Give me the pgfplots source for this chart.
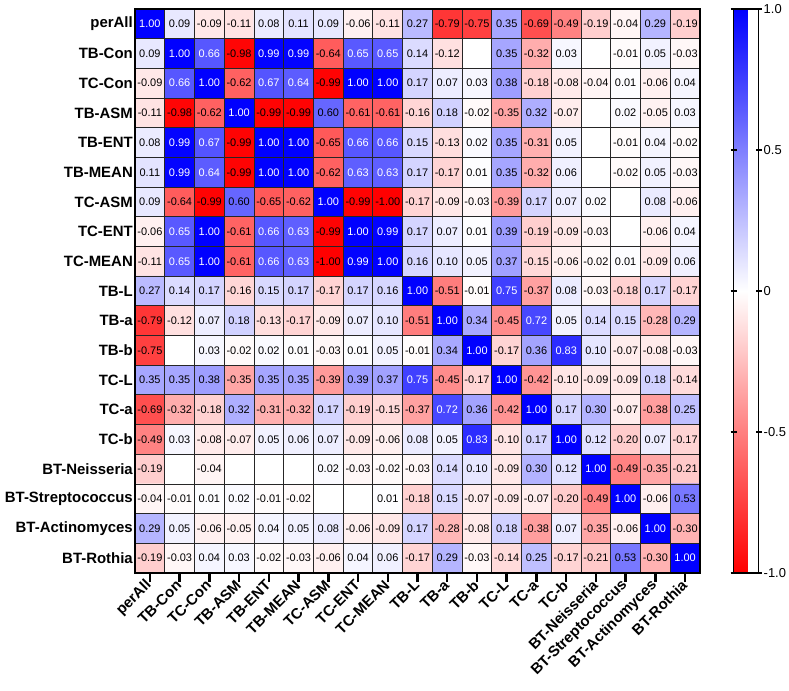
\documentclass[border=0pt]{standalone}
\usepackage{pgfplots}
\pgfplotsset{compat=1.18}
\usepackage{pgfplotstable}
\usepackage{fontspec}
\setmainfont{Liberation Sans}

% correlation matrix, rows/cols in order: perAll ... BT-Rothia ; 0 = blank cell
\pgfplotstableread{
c0 c1 c2 c3 c4 c5 c6 c7 c8 c9 c10 c11 c12 c13 c14 c15 c16 c17 c18
1.00 0.09 -0.09 -0.11 0.08 0.11 0.09 -0.06 -0.11 0.27 -0.79 -0.75 0.35 -0.69 -0.49 -0.19 -0.04 0.29 -0.19
0.09 1.00 0.66 -0.98 0.99 0.99 -0.64 0.65 0.65 0.14 -0.12 0 0.35 -0.32 0.03 0 -0.01 0.05 -0.03
-0.09 0.66 1.00 -0.62 0.67 0.64 -0.99 1.00 1.00 0.17 0.07 0.03 0.38 -0.18 -0.08 -0.04 0.01 -0.06 0.04
-0.11 -0.98 -0.62 1.00 -0.99 -0.99 0.60 -0.61 -0.61 -0.16 0.18 -0.02 -0.35 0.32 -0.07 0 0.02 -0.05 0.03
0.08 0.99 0.67 -0.99 1.00 1.00 -0.65 0.66 0.66 0.15 -0.13 0.02 0.35 -0.31 0.05 0 -0.01 0.04 -0.02
0.11 0.99 0.64 -0.99 1.00 1.00 -0.62 0.63 0.63 0.17 -0.17 0.01 0.35 -0.32 0.06 0 -0.02 0.05 -0.03
0.09 -0.64 -0.99 0.60 -0.65 -0.62 1.00 -0.99 -1.00 -0.17 -0.09 -0.03 -0.39 0.17 0.07 0.02 0 0.08 -0.06
-0.06 0.65 1.00 -0.61 0.66 0.63 -0.99 1.00 0.99 0.17 0.07 0.01 0.39 -0.19 -0.09 -0.03 0 -0.06 0.04
-0.11 0.65 1.00 -0.61 0.66 0.63 -1.00 0.99 1.00 0.16 0.10 0.05 0.37 -0.15 -0.06 -0.02 0.01 -0.09 0.06
0.27 0.14 0.17 -0.16 0.15 0.17 -0.17 0.17 0.16 1.00 -0.51 -0.01 0.75 -0.37 0.08 -0.03 -0.18 0.17 -0.17
-0.79 -0.12 0.07 0.18 -0.13 -0.17 -0.09 0.07 0.10 -0.51 1.00 0.34 -0.45 0.72 0.05 0.14 0.15 -0.28 0.29
-0.75 0 0.03 -0.02 0.02 0.01 -0.03 0.01 0.05 -0.01 0.34 1.00 -0.17 0.36 0.83 0.10 -0.07 -0.08 -0.03
0.35 0.35 0.38 -0.35 0.35 0.35 -0.39 0.39 0.37 0.75 -0.45 -0.17 1.00 -0.42 -0.10 -0.09 -0.09 0.18 -0.14
-0.69 -0.32 -0.18 0.32 -0.31 -0.32 0.17 -0.19 -0.15 -0.37 0.72 0.36 -0.42 1.00 0.17 0.30 -0.07 -0.38 0.25
-0.49 0.03 -0.08 -0.07 0.05 0.06 0.07 -0.09 -0.06 0.08 0.05 0.83 -0.10 0.17 1.00 0.12 -0.20 0.07 -0.17
-0.19 0 -0.04 0 0 0 0.02 -0.03 -0.02 -0.03 0.14 0.10 -0.09 0.30 0.12 1.00 -0.49 -0.35 -0.21
-0.04 -0.01 0.01 0.02 -0.01 -0.02 0 0 0.01 -0.18 0.15 -0.07 -0.09 -0.07 -0.20 -0.49 1.00 -0.06 0.53
0.29 0.05 -0.06 -0.05 0.04 0.05 0.08 -0.06 -0.09 0.17 -0.28 -0.08 0.18 -0.38 0.07 -0.35 -0.06 1.00 -0.30
-0.19 -0.03 0.04 0.03 -0.02 -0.03 -0.06 0.04 0.06 -0.17 0.29 -0.03 -0.14 0.25 -0.17 -0.21 0.53 -0.30 1.00
}\corr

\gdef\coordlist{}
\pgfplotsforeachungrouped \r in {0,...,18}{%
  \pgfplotsforeachungrouped \c in {0,...,18}{%
    \edef\cn{c\c}%
    \pgfplotstablegetelem{\r}{\cn}\of\corr
    \pgfmathtruncatemacro\yy{18-\r}%
    \xdef\coordlist{\coordlist (\c,\yy) [\pgfplotsretval]}%
  }%
}

\def\plotmatrix#1{\addplot[matrix plot*, mesh/cols=19, point meta=explicit] coordinates {#1};}
\def\plotlabels#1{\addplot[only marks, mark=none, draw=none, point meta=explicit symbolic,
   nodes near coords={\ifdim\pgfplotspointmeta pt=0pt\else\ifdim\pgfplotspointmeta pt>0.605pt\color{white}\fi\pgfplotspointmeta\fi},
   nodes near coords align=center,
   every node near coord/.append style={anchor=center, inner sep=0pt, font=\fontsize{11}{11}\selectfont}]
   coordinates {#1};}

\begin{document}
\begin{tikzpicture}
\begin{axis}[
  scale only axis, width=565bp, height=564bp,
  xmin=-0.5, xmax=18.5, ymin=-0.5, ymax=18.5,
  enlargelimits=false, clip=false,
  colormap={rwb}{rgb255=(255,0,0) rgb255=(255,255,255) rgb255=(0,0,255)},
  point meta min=-1, point meta max=1,
  xtick={0,...,18}, ytick={0,...,18},
  xticklabels={perAll,TB-Con,TC-Con,TB-ASM,TB-ENT,TB-MEAN,TC-ASM,TC-ENT,TC-MEAN,TB-L,TB-a,TB-b,TC-L,TC-a,TC-b,BT-Neisseria,BT-Streptococcus,BT-Actinomyces,BT-Rothia},
  yticklabels={BT-Rothia,BT-Actinomyces,BT-Streptococcus,BT-Neisseria,TC-b,TC-a,TC-L,TB-b,TB-a,TB-L,TC-MEAN,TC-ENT,TC-ASM,TB-MEAN,TB-ENT,TB-ASM,TC-Con,TB-Con,perAll},
  xtick pos=left, xtick align=outside,
  major tick length=9bp,
  xtick style={line width=2.5bp, black},
  ytick style={draw=none},
  minor xtick={0.5,1.5,...,17.5}, minor ytick={0.5,1.5,...,17.5},
  minor tick length=0pt,
  xminorgrids=true, yminorgrids=true,
  minor grid style={black!85, line width=0.8bp},
  axis on top,
  axis line style={line width=1.2bp},
  xticklabel style={rotate=45, anchor=east, inner sep=1bp, font=\bfseries\fontsize{15}{15}\selectfont},
  yticklabel style={anchor=east, inner sep=2bp, font=\bfseries\fontsize{15}{15}\selectfont},
  colorbar,
  colorbar style={
    at={(parent axis.north east)}, anchor=north west, xshift=25bp,
    scale only axis, width=25bp, height=564bp,
    ytick={-1,-0.5,0,0.5,1}, yticklabels={-1.0,-0.5,0,0.5,1.0},
    yticklabel style={font=\fontsize{13}{13}\selectfont, inner sep=1bp, xshift=1bp},
    ytick pos=both, ytick align=center,
    major tick length=6bp,
    ytick style={line width=2bp, black},
    axis line style={line width=1.5bp},
  },
]
\expandafter\plotmatrix\expandafter{\coordlist}
\expandafter\plotlabels\expandafter{\coordlist}
\draw[line width=2.5bp] (axis description cs:0,1) -- (axis description cs:0,0) -- (axis description cs:1,0);
\end{axis}
\pgfresetboundingbox
\path (-135bp,-118bp) rectangle (654bp,573bp);
\end{tikzpicture}
\end{document}
